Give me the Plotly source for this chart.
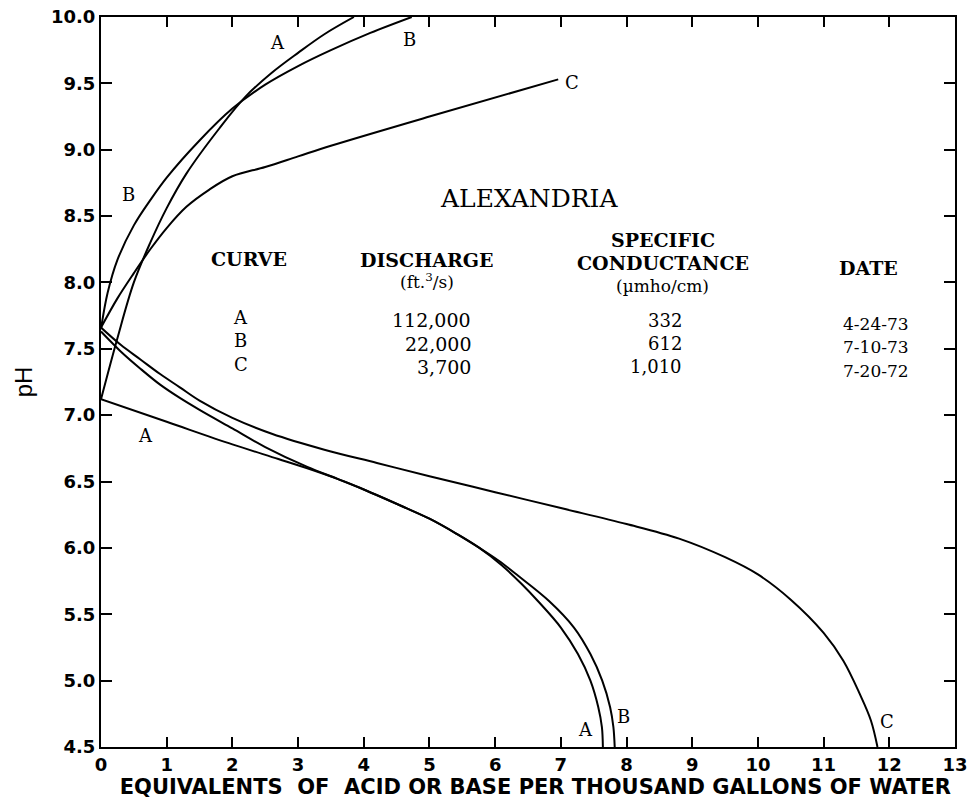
import plotly.graph_objects as go

# ---- data (equivalents per thousand gallons, pH) ----
a_acid_x = [0, 1.0, 2.0, 2.7, 3.14, 3.6, 4.0, 4.6, 5.0, 5.4, 5.76, 6.1, 6.4, 6.65, 7.0, 7.26, 7.45, 7.57, 7.625, 7.64]
a_acid_y = [7.12, 6.95, 6.78, 6.67, 6.6, 6.52, 6.44, 6.31, 6.22, 6.11, 6.0, 5.87, 5.73, 5.6, 5.4, 5.2, 5.0, 4.8, 4.65, 4.5]

b_acid_x = [0, 0.3, 0.6, 0.9, 1.2, 1.5, 2.0, 2.5, 3.14, 3.6, 4.0, 4.6, 5.0, 5.4, 5.76, 6.05, 6.35, 6.82, 7.2, 7.45, 7.63, 7.75, 7.8, 7.82]
b_acid_y = [7.63, 7.48, 7.35, 7.23, 7.13, 7.04, 6.9, 6.76, 6.61, 6.52, 6.44, 6.31, 6.22, 6.11, 6.0, 5.905, 5.79, 5.6, 5.4, 5.2, 5.0, 4.8, 4.65, 4.5]

c_acid_x = [0, 0.3, 0.6, 0.9, 1.2, 1.5, 2.0, 2.6, 3.4, 4.2, 5.0, 6.0, 7.0, 8.0, 8.8, 9.5, 10.0, 10.5, 11.0, 11.3, 11.55, 11.72, 11.82]
c_acid_y = [7.66, 7.53, 7.42, 7.31, 7.21, 7.11, 6.98, 6.86, 6.74, 6.64, 6.54, 6.42, 6.3, 6.18, 6.07, 5.93, 5.8, 5.61, 5.36, 5.15, 4.9, 4.7, 4.5]

a_base_x = [0, 0.25, 0.5, 0.75, 1.0, 1.3, 1.8, 2.2, 2.6, 3.0, 3.4, 3.85]
a_base_y = [7.12, 7.58, 8.0, 8.3, 8.56, 8.82, 9.16, 9.4, 9.58, 9.73, 9.87, 10.0]

b_base_x = [0, 0.1, 0.25, 0.5, 0.75, 1.0, 1.5, 2.0, 2.5, 3.0, 3.5, 4.1, 4.73]
b_base_y = [7.65, 7.92, 8.17, 8.43, 8.62, 8.79, 9.07, 9.31, 9.49, 9.63, 9.75, 9.88, 10.0]

c_base_x = [0, 0.25, 0.5, 0.75, 1.0, 1.3, 1.65, 2.0, 2.5, 3.0, 3.5, 5.0, 6.96]
c_base_y = [7.66, 7.88, 8.07, 8.25, 8.41, 8.57, 8.7, 8.8, 8.87, 8.95, 9.03, 9.25, 9.53]

# ---- table ----
curve_ids = ["A", "B", "C"]
discharge = ["112,000", "22,000", "3,700"]
conductance = ["332", "612", "1,010"]
dates = ["4-24-73", "7-10-73", "7-20-72"]

x_ticks = list(range(0, 14))
y_ticks = [4.5, 5.0, 5.5, 6.0, 6.5, 7.0, 7.5, 8.0, 8.5, 9.0, 9.5, 10.0]

fig = go.Figure()
curves = [
    ("A acid", a_acid_x, a_acid_y), ("B acid", b_acid_x, b_acid_y), ("C acid", c_acid_x, c_acid_y),
    ("A base", a_base_x, a_base_y), ("B base", b_base_x, b_base_y), ("C base", c_base_x, c_base_y),
]
for name, xs, ys in curves:
    fig.add_trace(go.Scatter(x=xs, y=ys, mode="lines", name=name, showlegend=False,
                             hoverinfo="skip",
                             line=dict(color="black", width=2, shape="spline", smoothing=1.0)))

serif = "DejaVu Serif"
ann = []
def txt(x, y, t, size=18, bold=False, xanchor="center"):
    ann.append(dict(x=x, y=y, xref="x", yref="y", text=t, showarrow=False, xanchor=xanchor,
                    yanchor="middle",
                    font=dict(family=serif, size=size, color="black",
                              weight="bold" if bold else "normal")))

# curve labels
txt(2.68, 9.81, "A", 18)
txt(4.70, 9.83, "B", 18)
txt(7.17, 9.51, "C", 18)
txt(0.42, 8.66, "B", 18)
txt(0.68, 6.85, "A", 18)
txt(7.38, 4.63, "A", 18)
txt(7.95, 4.73, "B", 18)
txt(11.96, 4.69, "C", 18)

# title and table headers
txt(6.51, 8.63, "ALEXANDRIA", 25)
txt(2.25, 8.18, "CURVE", 19, True)
txt(4.96, 8.17, "DISCHARGE", 19, True)
txt(4.96, 8.01, "(ft.<sup>3</sup>/s)", 17)
txt(8.55, 8.32, "SPECIFIC", 19, True)
txt(8.55, 8.15, "CONDUCTANCE", 19, True)
txt(8.55, 7.97, "(µmho/cm)", 17)
txt(11.68, 8.11, "DATE", 19, True)

row_y = [7.735, 7.56, 7.385]
for i in range(3):
    yy = row_y[i]
    txt(2.13, yy, curve_ids[i], 18)
    txt(5.66, yy - 0.02, discharge[i], 19, xanchor="right")
    txt(8.88, yy - 0.02, conductance[i], 18, xanchor="right")
    txt(11.8, yy - 0.05, dates[i], 17)

tick_font = dict(family="DejaVu Sans", size=18, color="black", weight="bold")
fig.update_layout(
    width=968, height=809,
    margin=dict(l=101, r=13, t=17, b=62),
    paper_bgcolor="white", plot_bgcolor="white",
    annotations=ann,
    xaxis=dict(range=[0, 13], tickvals=x_ticks, ticks="inside", ticklen=10, tickwidth=1.5,
               tickcolor="black", showline=True, linecolor="black", linewidth=2, mirror="ticks",
               showgrid=False, zeroline=False, tickfont=tick_font, automargin=False,
               title=dict(text="&nbsp;&nbsp;EQUIVALENTS&nbsp;&nbsp;OF&nbsp;&nbsp;ACID OR BASE PER THOUSAND GALLONS OF WATER",
                          standoff=2,
                          font=dict(family="DejaVu Sans", size=21, color="black", weight="bold"))),
    yaxis=dict(range=[4.5, 10], tickvals=y_ticks, tickformat=".1f", ticks="inside", ticklen=11,
               tickwidth=1.5, tickcolor="black", showline=True, linecolor="black", linewidth=2,
               mirror="ticks", showgrid=False, zeroline=False, tickfont=tick_font, automargin=False,
               title=dict(text="pH", standoff=12,
                          font=dict(family="Liberation Sans", size=24, color="black"))),
)

fig.write_html("out.html")
